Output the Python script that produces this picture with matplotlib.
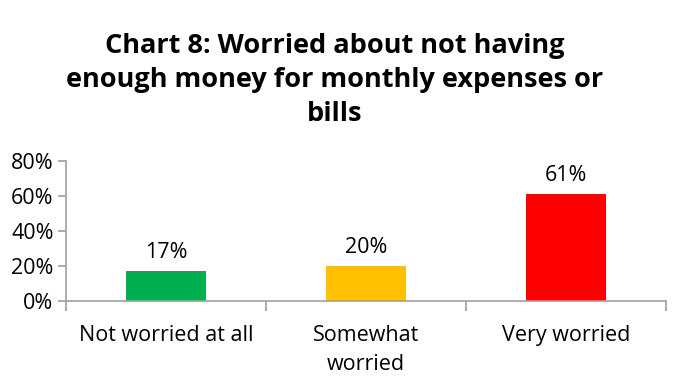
import matplotlib
matplotlib.use("Agg")
import matplotlib.pyplot as plt
import numpy as np

categories = ["Not worried at all", "Somewhat\nworried", "Very worried"]
values = [17, 20, 61]
colors = ["#00B050", "#FFC000", "#FF0000"]
yticks = [0, 20, 40, 60, 80]

plt.rcParams['font.family'] = ['Open Sans', 'DejaVu Sans']

fig = plt.figure(figsize=(6.77, 3.82), dpi=100)
ax = fig.add_axes([66/677, 1-301/382, 600/677, 140/382])

x = np.arange(len(categories))
ax.bar(x, values, width=0.4, color=colors, zorder=2)
for xi, v in zip(x, values):
    ax.text(xi, v + 4.5, f"{v}%", ha="center", va="bottom", fontsize=15.5)

ax.set_xlim(-0.5, len(categories) - 0.5)
ax.set_ylim(0, 80)
ax.set_yticks(yticks)
ax.set_yticklabels([f"{t}%" for t in yticks], fontsize=15.5)
ax.set_xticks(x)
ax.set_xticklabels(categories, fontsize=15.5, linespacing=1.5)
ax.tick_params(axis='x', length=0, pad=17)
ax.set_xticks(np.arange(-0.5, len(categories)), minor=True)
ax.tick_params(axis='x', which='minor', length=7, color='#a0a0a0', width=1.2)
ax.tick_params(axis='y', length=6, color='#a0a0a0', width=1.2, pad=3)
for s in ['top', 'right']:
    ax.spines[s].set_visible(False)
for s in ['left', 'bottom']:
    ax.spines[s].set_color('#a0a0a0')
    ax.spines[s].set_linewidth(1.2)

fig.text(335/677, 1-80/382, "Chart 8: Worried about not having\nenough money for monthly expenses or\nbills",
         ha="center", va="center", fontsize=19.5, fontweight="bold", linespacing=1.4)

fig.savefig("out.png", dpi=100)
